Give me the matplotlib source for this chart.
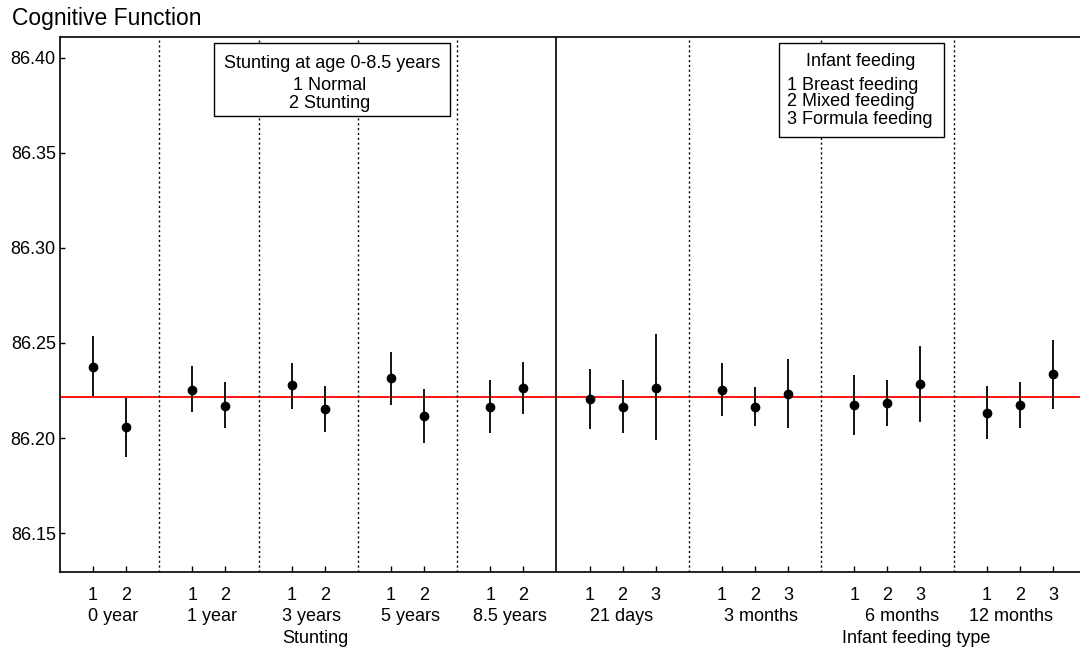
import matplotlib
matplotlib.use('Agg')
import matplotlib.pyplot as plt
from matplotlib.patches import Rectangle

plt.rcParams['font.family'] = ['Liberation Sans', 'DejaVu Sans']

# Stunting panel (1 Normal, 2 Stunting) for each age
stunt_groups = ['0 year', '1 year', '3 years', '5 years', '8.5 years']
stunt_mean = [86.2375, 86.2060, 86.2254, 86.2170, 86.2277, 86.2154, 86.2316, 86.2118, 86.2165, 86.2263]
stunt_lo = [86.2221, 86.1899, 86.2139, 86.2054, 86.2154, 86.2033, 86.2175, 86.1972, 86.2025, 86.2125]
stunt_hi = [86.2538, 86.2212, 86.2379, 86.2296, 86.2395, 86.2272, 86.2454, 86.2258, 86.2304, 86.2402]

# Infant feeding panel (1 Breast, 2 Mixed, 3 Formula) for each age
feed_groups = ['21 days', '3 months', '6 months', '12 months']
feed_mean = [86.2204, 86.2165, 86.2263, 86.2254, 86.2165, 86.2232,
             86.2172, 86.2186, 86.2286, 86.2133, 86.2172, 86.2339]
feed_lo = [86.2049, 86.2027, 86.1988, 86.2116, 86.2063, 86.2054,
           86.2018, 86.2063, 86.2086, 86.1995, 86.2054, 86.2154]
feed_hi = [86.2363, 86.2304, 86.2547, 86.2395, 86.2267, 86.2417,
           86.2333, 86.2304, 86.2486, 86.2272, 86.2296, 86.2516]

overall_mean = 86.2217
y_ticks = [86.15, 86.20, 86.25, 86.30, 86.35, 86.40]

W, H = 1080, 651


def fx(px):
    return px / W


def fy(py):
    return 1 - py / H


def main():
    fig = plt.figure(figsize=(10.8, 6.51), dpi=100)
    ax = fig.add_axes([fx(60), fy(572), fx(1020), (572 - 37) / H])

    # x positions: groups of 2 (stunting) then groups of 3 (feeding), one gap slot between groups
    xs_stunt, xs_feed = [], []
    pos = 0
    stunt_label_x = []
    for g in stunt_groups:
        xs_stunt += [pos + 1, pos + 2]
        stunt_label_x.append(pos + 1.6)
        pos += 3
    split = pos
    for g in feed_groups:
        xs_feed += [pos + 1, pos + 2, pos + 3]
        pos += 4
    feed_label_x = [16.96, 21.19, 25.44, 28.75]
    seps = [3, 6, 9, 12, 19, 23, 27]

    ax.axhline(overall_mean, color='red', lw=1.3, zorder=1)
    for s in seps:
        ax.axvline(s, color='black', lw=1.0, ls=(0, (1.5, 2)), zorder=1)
    ax.axvline(split, color='black', lw=1.2, zorder=1)

    xs = xs_stunt + xs_feed
    mean = stunt_mean + feed_mean
    lo = stunt_lo + feed_lo
    hi = stunt_hi + feed_hi
    ax.vlines(xs, lo, hi, color='black', lw=1.3, zorder=2)
    ax.plot(xs, mean, 'o', color='black', ms=6, zorder=3)

    ax.set_xlim(0, 30.82)
    ax.set_ylim(86.1295, 86.411)
    ax.set_yticks(y_ticks)
    ax.set_yticklabels(['%.2f' % v for v in y_ticks])
    ax.set_xticks(xs)
    ax.set_xticklabels([])
    ax.tick_params(axis='y', direction='in', length=3.5, width=1.0, labelsize=13, pad=3)
    ax.tick_params(axis='x', direction='in', length=4.5, width=1.0)
    ax.spines['right'].set_visible(False)
    for sp in ['left', 'top', 'bottom']:
        ax.spines[sp].set_linewidth(1.2)

    tr = ax.get_xaxis_transform()
    codes = ['1', '2'] * len(stunt_groups) + ['1', '2', '3'] * len(feed_groups)
    for x, c in zip(xs, codes):
        ax.text(x, -0.043, c, transform=tr, ha='center', va='center', fontsize=13)
    for x, g in zip(stunt_label_x, stunt_groups):
        ax.text(x, -0.084, g, transform=tr, ha='center', va='center', fontsize=13)
    for x, g in zip(feed_label_x, feed_groups):
        ax.text(x, -0.084, g, transform=tr, ha='center', va='center', fontsize=13)
    ax.text(7.73, -0.125, 'Stunting', transform=tr, ha='center', va='center', fontsize=13)
    ax.text(25.88, -0.125, 'Infant feeding type', transform=tr, ha='center', va='center', fontsize=13)

    fig.text(fx(12), fy(18), 'Cognitive Function', ha='left', va='center', fontsize=16.5)

    # legend boxes (white filled, covering the separators)
    fig.add_artist(Rectangle((fx(214), fy(116)), fx(450 - 214), (116 - 43) / H,
                             fc='white', ec='black', lw=1.0, zorder=2,
                             transform=fig.transFigure))
    fig.text(fx(332), fy(63), 'Stunting at age 0-8.5 years', ha='center', va='center', fontsize=13, zorder=3)
    fig.text(fx(330), fy(85), '1 Normal', ha='center', va='center', fontsize=13, zorder=3)
    fig.text(fx(330), fy(103), '2 Stunting', ha='center', va='center', fontsize=13, zorder=3)

    fig.add_artist(Rectangle((fx(779), fy(137)), fx(944 - 779), (137 - 43) / H,
                             fc='white', ec='black', lw=1.0, zorder=2,
                             transform=fig.transFigure))
    fig.text(fx(861), fy(62), 'Infant feeding', ha='center', va='center', fontsize=13, zorder=3)
    fig.text(fx(787), fy(85), '1 Breast feeding', ha='left', va='center', fontsize=13, zorder=3)
    fig.text(fx(787), fy(102), '2 Mixed feeding', ha='left', va='center', fontsize=13, zorder=3)
    fig.text(fx(787), fy(119), '3 Formula feeding', ha='left', va='center', fontsize=13, zorder=3)

    fig.savefig('out.png', dpi=100)


if __name__ == '__main__':
    main()
